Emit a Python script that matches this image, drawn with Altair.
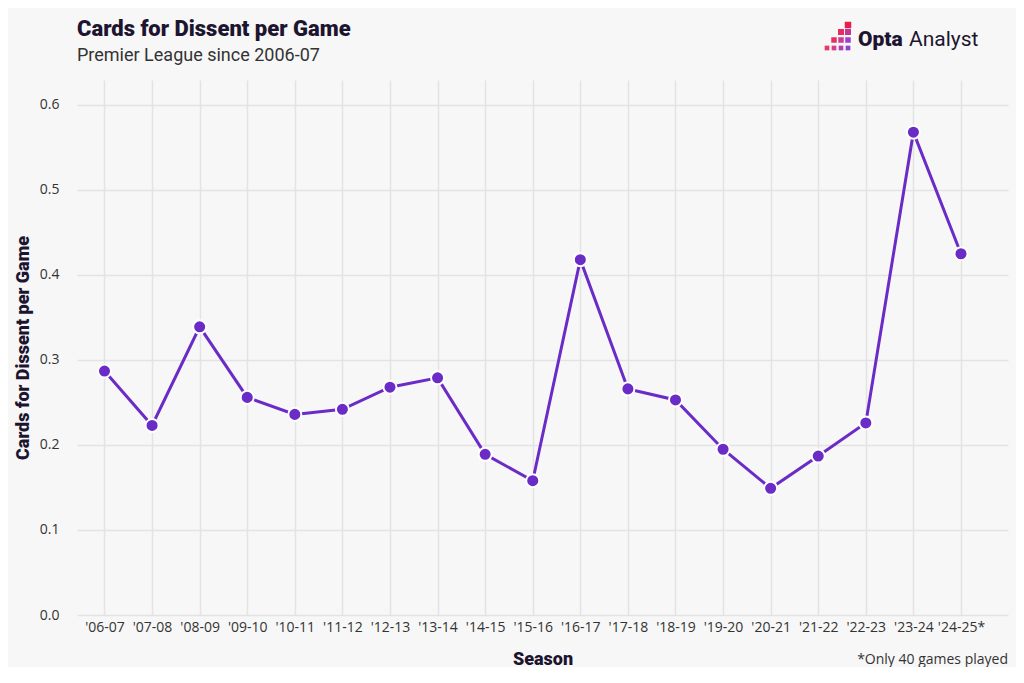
import altair as alt
import pandas as pd

# ---- data ----
seasons = ["'06-07", "'07-08", "'08-09", "'09-10", "'10-11", "'11-12", "'12-13",
           "'13-14", "'14-15", "'15-16", "'16-17", "'17-18", "'18-19", "'19-20",
           "'20-21", "'21-22", "'22-23", "'23-24", "'24-25*"]
cards_per_game = [0.287, 0.223, 0.339, 0.256, 0.236, 0.242, 0.268, 0.279, 0.189,
                  0.158, 0.418, 0.266, 0.253, 0.195, 0.149, 0.187, 0.226, 0.568, 0.425]
y_ticks = [0.0, 0.1, 0.2, 0.3, 0.4, 0.5, 0.6]

title_text = "Cards for Dissent per Game"
subtitle_text = "Premier League since 2006-07"
y_title = "Cards for Dissent per Game"
x_title = "Season"
footnote_text = "*Only 40 games played"

# logo (decorative), positions in pixels relative to plot origin
logo_sq_x = [771, 764, 771, 757, 764, 771, 750, 757, 764, 771]
logo_sq_y = [-55, -48, -48, -40, -40, -40, -32, -32, -32, -32]
logo_sq_size = [42, 36, 36, 30, 30, 30, 22, 22, 22, 22]
logo_sq_color = ["#e3204c", "#e52e5e", "#c53596", "#e63060", "#cc3a93", "#a33cc6",
                 "#e63c63", "#d13e8c", "#b240b4", "#8f42cf"]

FONT = "Roboto"
LFONT = "Open Sans"
INK = "#1d1530"
PURPLE = "#6a2bc6"

df = pd.DataFrame({"season": seasons, "value": cards_per_game})

x_enc = alt.X("season:N", sort=seasons, title=x_title,
              scale=alt.Scale(type="point", padding=0.783, align=0.369),
              axis=alt.Axis(labelAngle=0, labelFontSize=14, labelColor="#333333",
                            labelFont=LFONT, labelPadding=5, ticks=False, domain=False,
                            grid=True, gridColor="#e3e3e3", gridWidth=1.5,
                            titleFont=FONT, titleFontSize=18, titleFontWeight=900,
                            titleColor=INK, titlePadding=16))
y_enc = alt.Y("value:Q", title=y_title,
              scale=alt.Scale(domain=[0, 0.6294], nice=False, zero=True),
              axis=alt.Axis(values=y_ticks, format=".1f", labelFontSize=14,
                            labelColor="#333333", labelFont=LFONT, labelPadding=18,
                            ticks=False, domain=False, grid=True, gridColor="#e3e3e3",
                            gridWidth=1.5, titleFont=FONT, titleFontSize=18,
                            titleFontWeight=900, titleColor=INK, titlePadding=7))

base = alt.Chart(df)
line = base.mark_line(color=PURPLE, strokeWidth=3).encode(x=x_enc, y=y_enc)
points = base.mark_point(filled=True, fill=PURPLE, stroke="white", strokeWidth=2,
                         size=170, opacity=1, shape="circle").encode(x=x_enc, y=y_enc)
main = alt.layer(line, points)


def pixel_text(text, px, py, size, weight, color, font, align="left"):
    d = pd.DataFrame({"t": [text], "px": [px], "py": [py]})
    return alt.Chart(d).mark_text(align=align, baseline="alphabetic", font=font,
                                  fontSize=size, fontWeight=weight, color=color).encode(
        x=alt.X("px:Q", scale=None, axis=None), y=alt.Y("py:Q", scale=None, axis=None),
        text="t:N")


title = pixel_text(title_text, 0, -44, 22, 900, INK, FONT)
subtitle = pixel_text(subtitle_text, 0, -19, 18, 400, "#333333", FONT)
footnote = pixel_text(footnote_text, 931, 584, 14, 400, "#333333", LFONT, align="right")
logo_bold = pixel_text("Opta", 781, -34, 21, 900, INK, FONT)
logo_reg = pixel_text("Analyst", 832, -34, 21, 400, INK, FONT)

logo_df = pd.DataFrame({"px": logo_sq_x, "py": logo_sq_y, "s": logo_sq_size,
                        "c": logo_sq_color})
logo_sq = alt.Chart(logo_df).mark_square(opacity=1).encode(
    x=alt.X("px:Q", scale=None, axis=None), y=alt.Y("py:Q", scale=None, axis=None),
    size=alt.Size("s:Q", scale=None, legend=None),
    color=alt.Color("c:N", scale=None, legend=None))

chart = alt.layer(main, title, subtitle, footnote, logo_sq, logo_bold, logo_reg).resolve_scale(
    x="independent", y="independent"
).properties(
    width=931, height=535,
    autosize=alt.AutoSizeParams(type="none"),
    padding={"left": 69, "top": 72, "right": 8, "bottom": 52},
    background="#f7f7f7",
).configure_view(stroke=None)

chart.save("out.html", embed_options={"renderer": "svg", "actions": False})
